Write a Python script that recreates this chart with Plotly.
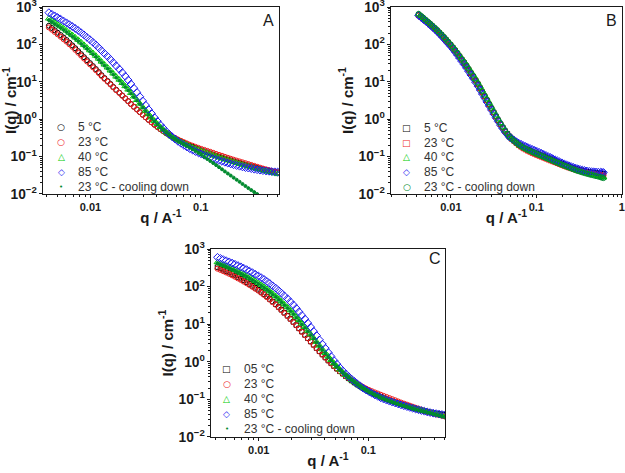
import plotly.graph_objects as go

# ---------------- data ----------------
q_AC = [0.00420, 0.00447, 0.00474, 0.00504, 0.00537, 0.00571, 0.00607, 0.00645, 0.00686, 0.00729,
        0.00775, 0.00824, 0.00875, 0.00930, 0.00991, 0.01054, 0.0112, 0.01191, 0.0126, 0.0134,
        0.0143, 0.0152, 0.0161, 0.01712, 0.0183, 0.01946, 0.0207, 0.02201, 0.0233, 0.02477,
        0.0264, 0.02807, 0.0298, 0.03168, 0.0337, 0.03583, 0.0381, 0.04051, 0.0431, 0.04582,
        0.0486, 0.05167, 0.0550, 0.05848, 0.0622, 0.06613, 0.0703, 0.07474, 0.0794, 0.08442,
        0.0897, 0.09537, 0.1014, 0.1078, 0.1148, 0.1221, 0.1297, 0.1379, 0.1466, 0.1559,
        0.1656, 0.1761, 0.1871, 0.1989, 0.2118, 0.2252, 0.2393, 0.2544, 0.2704, 0.2875,
        0.3055, 0.3248, 0.3451, 0.3669, 0.3908, 0.4155, 0.4416, 0.4695, 0.4989]
q_B = [0.00420, 0.00447, 0.00474, 0.00504, 0.00537, 0.00571, 0.00607, 0.00645, 0.00686, 0.00729,
       0.00775, 0.00824, 0.00875, 0.00930, 0.00991, 0.01054, 0.0112, 0.01191, 0.0126, 0.0134,
       0.0143, 0.0152, 0.0161, 0.01712, 0.0183, 0.01946, 0.0207, 0.02201, 0.0233, 0.02477,
       0.0264, 0.02807, 0.0298, 0.03168, 0.0337, 0.03583, 0.0381, 0.04051, 0.0431, 0.04582,
       0.0486, 0.05167, 0.0550, 0.05848, 0.0622, 0.06613, 0.0703, 0.07474, 0.0794, 0.08442,
       0.0897, 0.09537, 0.1014, 0.1078, 0.1148, 0.1221, 0.1297, 0.1379, 0.1466, 0.1559,
       0.1656, 0.1761, 0.1871, 0.1989, 0.2118, 0.2252, 0.2393, 0.2544, 0.2704, 0.2875,
       0.3055, 0.3248, 0.3451, 0.3669, 0.3908, 0.4155, 0.4416, 0.4695, 0.4989, 0.5305,
       0.564, 0.5866, 0.610]

labels_AB = ["5 °C", "23 °C", "40 °C", "85 °C", "23 °C - cooling down"]
labels_C = ["05 °C", "23 °C", "40 °C", "85 °C", "23 °C - cooling down"]
panel_tags = ["A", "B", "C"]

# Panel A
A_5C = [316, 275, 239, 206, 178, 153, 131, 111, 94, 78.8, 66, 54.9, 45.6, 38.0, 31.6, 26.3, 21.9, 18.2,
        15.1, 12.6, 10.5, 8.76, 7.31, 6.12, 5.13, 4.30, 3.61, 3.04, 2.56, 2.16, 1.83, 1.55, 1.32, 1.12,
        0.957, 0.824, 0.710, 0.618, 0.538, 0.477, 0.422, 0.378, 0.338, 0.307, 0.278, 0.255, 0.233,
        0.214, 0.197, 0.183, 0.169, 0.158, 0.147, 0.138, 0.129, 0.121, 0.113, 0.106, 0.100, 0.0941,
        0.0885, 0.0836, 0.0789, 0.0746, 0.0706, 0.0671, 0.0637, 0.0606, 0.0577, 0.0549, 0.0522,
        0.0497, 0.0473, 0.0454, 0.0435, 0.0419, 0.0404, 0.0391, 0.0379]
A_23C = [285, 248, 216, 187, 161, 138, 119, 101, 86, 71.8, 60, 50.1, 41.8, 34.9, 29.2, 24.5, 20.5, 17.1,
         14.3, 12.0, 10.1, 8.47, 7.1, 5.96, 5.0, 4.21, 3.55, 2.99, 2.52, 2.14, 1.81, 1.54, 1.31, 1.12,
         0.955, 0.825, 0.712, 0.621, 0.542, 0.482, 0.428, 0.384, 0.345, 0.315, 0.287, 0.264, 0.243,
         0.225, 0.208, 0.195, 0.182, 0.171, 0.160, 0.151, 0.142, 0.134, 0.126, 0.118, 0.111, 0.105,
         0.0985, 0.0928, 0.0875, 0.0826, 0.0780, 0.0739, 0.0700, 0.0664, 0.0630, 0.0597, 0.0565,
         0.0534, 0.0505, 0.0479, 0.0455, 0.0432, 0.0410, 0.0392, 0.0375]
A_40C = [493, 439, 390, 345, 305, 268, 235, 205, 178, 154, 133, 114, 97.1, 82.3, 69.8, 59.0, 49.8, 41.6,
         34.7, 29.0, 24.2, 20.1, 16.7, 13.8, 11.4, 9.33, 7.64, 6.21, 5.04, 4.05, 3.26, 2.62, 2.10, 1.69,
         1.36, 1.11, 0.903, 0.749, 0.622, 0.529, 0.449, 0.390, 0.339, 0.304, 0.272, 0.248, 0.226,
         0.207, 0.190, 0.175, 0.162, 0.151, 0.140, 0.131, 0.122, 0.114, 0.107, 0.101, 0.0944, 0.0889,
         0.0838, 0.0791, 0.0746, 0.0706, 0.0668, 0.0635, 0.0603, 0.0572, 0.0543, 0.0516, 0.0490,
         0.0468, 0.0447, 0.0427, 0.0407, 0.0389, 0.0372, 0.0355, 0.0339]
A_85C = [708, 642, 582, 525, 473, 423, 379, 338, 301, 267, 236, 206, 180, 155, 134, 114, 97.5, 81.7,
         68.4, 57.3, 48.0, 39.7, 32.8, 26.8, 21.9, 17.6, 14.1, 11.1, 8.73, 6.75, 5.22, 4.01, 3.08, 2.37,
         1.82, 1.42, 1.10, 0.878, 0.700, 0.575, 0.473, 0.401, 0.340, 0.295, 0.256, 0.227, 0.201,
         0.181, 0.163, 0.149, 0.136, 0.126, 0.116, 0.108, 0.101, 0.0946, 0.0885, 0.0835, 0.0787,
         0.0745, 0.0705, 0.0669, 0.0635, 0.0604, 0.0575, 0.0551, 0.0528, 0.0509, 0.0491, 0.0475,
         0.0459, 0.0445, 0.0432, 0.0421, 0.0411, 0.0403, 0.0396, 0.0391, 0.0386]
A_cool = [450, 400, 355, 315, 280, 246, 216, 188, 164, 142, 123, 105, 90, 76.5, 65, 55.0, 46.5, 38.9,
          32.5, 27.2, 22.7, 18.9, 15.7, 13.0, 10.8, 8.88, 7.3, 5.95, 4.85, 3.91, 3.15, 2.54, 2.05, 1.65,
          1.33, 1.08, 0.88, 0.733, 0.61, 0.518, 0.44, 0.381, 0.33, 0.296, 0.265, 0.239, 0.215, 0.194,
          0.175, 0.157, 0.140, 0.125, 0.112, 0.098, 0.086, 0.0759, 0.067, 0.059, 0.052, 0.0456, 0.040,
          0.0352, 0.031, 0.0273, 0.024, 0.0211, 0.0185, 0.0163, 0.0143, 0.0127, 0.0112, 0.0099,
          0.0088, 0.0078, 0.0070]

# Panel B
B_5C = [617, 551, 492, 438, 390, 345, 305, 268, 236, 205, 178, 153, 132, 113, 96.2, 81.0, 68.2, 56.7,
        47.2, 38.8, 31.9, 25.9, 21.0, 16.8, 13.5, 10.7, 8.49, 6.64, 5.20, 4.05, 3.15, 2.45, 1.91, 1.50,
        1.17, 0.926, 0.733, 0.592, 0.478, 0.407, 0.347, 0.304, 0.267, 0.237, 0.211, 0.194, 0.178,
        0.166, 0.155, 0.146, 0.137, 0.129, 0.122, 0.115, 0.109, 0.103, 0.0968, 0.0913, 0.0861,
        0.0813, 0.0767, 0.0723, 0.0682, 0.0644, 0.0608, 0.0576, 0.0545, 0.0518, 0.0493, 0.0473,
        0.0453, 0.0437, 0.0421, 0.0408, 0.0395, 0.0386, 0.0377, 0.0370, 0.0363, 0.0359, 0.0354,
        0.0351, 0.0347]
B_23C = [600, 537, 480, 428, 382, 339, 300, 264, 232, 202, 176, 152, 131, 112, 95.5, 80.6, 68.0, 56.8,
         47.5, 39.2, 32.3, 26.3, 21.4, 17.2, 13.8, 11.0, 8.7, 6.79, 5.3, 4.12, 3.2, 2.49, 1.93, 1.50,
         1.17, 0.924, 0.73, 0.589, 0.475, 0.396, 0.33, 0.292, 0.258, 0.227, 0.200, 0.182, 0.165,
         0.153, 0.142, 0.133, 0.124, 0.117, 0.110, 0.104, 0.098, 0.0926, 0.0875, 0.0826, 0.078,
         0.0739, 0.070, 0.0661, 0.0625, 0.0592, 0.0560, 0.0532, 0.0505, 0.0482, 0.0460, 0.0442,
         0.0425, 0.0410, 0.0395, 0.0382, 0.0370, 0.0360, 0.0350, 0.0342, 0.0335, 0.0327, 0.0320,
         0.0312, 0.0305]
B_40C = [640, 571, 510, 455, 405, 359, 318, 280, 247, 215, 187, 162, 140, 120, 102, 86.3, 73, 61.0,
         51, 42.1, 34.8, 28.4, 23.2, 18.7, 15.0, 11.9, 9.4, 7.38, 5.8, 4.51, 3.5, 2.71, 2.10, 1.63,
         1.27, 1.00, 0.79, 0.632, 0.505, 0.417, 0.345, 0.306, 0.272, 0.241, 0.214, 0.196, 0.179,
         0.167, 0.155, 0.145, 0.136, 0.128, 0.120, 0.113, 0.106, 0.0998, 0.094, 0.0883, 0.083,
         0.0784, 0.074, 0.0699, 0.066, 0.0621, 0.0585, 0.0552, 0.052, 0.0492, 0.0465, 0.0442,
         0.0420, 0.0402, 0.0385, 0.0370, 0.0355, 0.0342, 0.0330, 0.0320, 0.0310, 0.0300, 0.0290,
         0.0282, 0.0275]
B_85C = [600, 536, 478, 425, 378, 334, 295, 259, 227, 196, 170, 146, 125, 106, 90.5, 75.8, 63.5, 52.6,
         43.5, 35.6, 29.2, 23.6, 19.1, 15.3, 12.2, 9.69, 7.7, 6.05, 4.75, 3.71, 2.9, 2.27, 1.77, 1.39,
         1.09, 0.867, 0.69, 0.562, 0.458, 0.389, 0.330, 0.300, 0.272, 0.249, 0.228, 0.213, 0.198,
         0.186, 0.175, 0.165, 0.155, 0.146, 0.138, 0.130, 0.122, 0.114, 0.107, 0.100, 0.094, 0.0878,
         0.082, 0.0768, 0.072, 0.0679, 0.064, 0.0604, 0.057, 0.0542, 0.0515, 0.0492, 0.047, 0.0452,
         0.0435, 0.0422, 0.0410, 0.0402, 0.0395, 0.0390, 0.0385, 0.0383, 0.0380, 0.0378, 0.0375]
B_cool = [660, 589, 525, 465, 412, 364, 322, 283, 249, 216, 188, 162, 139, 119, 101, 85.3, 72, 60.0,
          50, 41.2, 34, 27.7, 22.6, 18.1, 14.5, 11.5, 9.1, 7.11, 5.55, 4.31, 3.35, 2.60, 2.02, 1.57,
          1.22, 0.963, 0.76, 0.610, 0.49, 0.407, 0.338, 0.298, 0.263, 0.232, 0.205, 0.188, 0.172,
          0.160, 0.149, 0.140, 0.131, 0.123, 0.116, 0.109, 0.103, 0.0968, 0.091, 0.0859, 0.081,
          0.0764, 0.072, 0.0679, 0.064, 0.0604, 0.057, 0.0539, 0.051, 0.0482, 0.0455, 0.0432, 0.0410,
          0.0392, 0.0375, 0.0360, 0.0345, 0.0332, 0.0320, 0.0310, 0.0300, 0.0290, 0.0280, 0.0272,
          0.0265]

# Panel C
C_05C = [331, 306, 282, 259, 238, 217, 198, 180, 163, 147, 132, 118, 105, 93.1, 82.6, 72.2, 63.1, 54.5,
         47.0, 40.1, 34.2, 28.8, 24.3, 20.2, 16.8, 13.9, 11.5, 9.45, 7.76, 6.34, 5.18, 4.23, 3.46, 2.83,
         2.31, 1.90, 1.56, 1.30, 1.08, 0.910, 0.766, 0.653, 0.557, 0.481, 0.415, 0.363, 0.317, 0.280,
         0.248, 0.222, 0.199, 0.181, 0.164, 0.150, 0.138, 0.127, 0.117, 0.109, 0.101, 0.0945, 0.0885,
         0.0832, 0.0783, 0.0739, 0.0697, 0.0660, 0.0624, 0.0592, 0.0562, 0.0535, 0.0509, 0.0488,
         0.0468, 0.0451, 0.0435, 0.0421, 0.0408, 0.0398, 0.0389]
C_23C = [300, 278, 258, 238, 219, 200, 183, 166, 151, 136, 123, 110, 98.5, 87.7, 78, 68.4, 60, 52.0,
         45, 38.5, 33, 27.9, 23.6, 19.7, 16.4, 13.6, 11.3, 9.30, 7.65, 6.26, 5.12, 4.19, 3.43, 2.80,
         2.29, 1.88, 1.55, 1.29, 1.07, 0.902, 0.76, 0.650, 0.555, 0.482, 0.418, 0.368, 0.324, 0.289,
         0.258, 0.234, 0.212, 0.194, 0.178, 0.165, 0.153, 0.143, 0.133, 0.124, 0.116, 0.108, 0.101,
         0.0943, 0.088, 0.0823, 0.077, 0.0724, 0.068, 0.0639, 0.060, 0.0564, 0.053, 0.0499, 0.047,
         0.0444, 0.042, 0.0400, 0.038, 0.0365, 0.035]
C_40C = [447, 415, 385, 356, 330, 303, 279, 256, 234, 213, 194, 175, 158, 141, 126, 112, 98.8, 86.4,
         75.5, 65.0, 55.9, 47.5, 40.4, 33.8, 28.3, 23.4, 19.4, 15.8, 12.9, 10.4, 8.41, 6.73, 5.38, 4.28,
         3.40, 2.70, 2.15, 1.72, 1.38, 1.12, 0.910, 0.752, 0.622, 0.526, 0.444, 0.383, 0.331, 0.289,
         0.253, 0.224, 0.199, 0.180, 0.162, 0.148, 0.135, 0.125, 0.115, 0.107, 0.0989, 0.0928, 0.0871,
         0.0822, 0.0776, 0.0733, 0.0692, 0.0657, 0.0624, 0.0592, 0.0562, 0.0537, 0.0513, 0.0490,
         0.0468, 0.0447, 0.0427, 0.0408, 0.0389, 0.0372, 0.0355]
C_85C = [603, 563, 526, 490, 457, 424, 394, 364, 337, 309, 284, 259, 236, 213, 193, 173, 155, 137,
         121, 105, 91.4, 78.4, 67.3, 56.7, 47.8, 39.5, 32.7, 26.5, 21.5, 17.2, 13.7, 10.7, 8.38, 6.47,
         5.00, 3.84, 2.95, 2.29, 1.77, 1.38, 1.08, 0.866, 0.695, 0.575, 0.475, 0.405, 0.346, 0.299,
         0.258, 0.227, 0.199, 0.178, 0.160, 0.145, 0.131, 0.120, 0.110, 0.102, 0.0953, 0.0896, 0.0843,
         0.0798, 0.0755, 0.0714, 0.0676, 0.0642, 0.0610, 0.0580, 0.0552, 0.0528, 0.0504, 0.0483,
         0.0462, 0.0446, 0.0430, 0.0417, 0.0404, 0.0394, 0.0385]
C_cool = [425, 394, 366, 339, 313, 288, 265, 243, 222, 202, 184, 166, 150, 134, 120, 106, 94, 82.3,
          72, 62.1, 53.5, 45.4, 38.6, 32.3, 27.1, 22.5, 18.6, 15.2, 12.4, 10.0, 8.1, 6.49, 5.2, 4.14,
          3.3, 2.63, 2.1, 1.68, 1.35, 1.10, 0.89, 0.737, 0.61, 0.517, 0.438, 0.379, 0.327, 0.286,
          0.250, 0.222, 0.197, 0.178, 0.160, 0.146, 0.133, 0.123, 0.113, 0.105, 0.097, 0.0908, 0.085,
          0.0798, 0.075, 0.0709, 0.067, 0.0634, 0.060, 0.0569, 0.054, 0.0514, 0.049, 0.0470, 0.045,
          0.0430, 0.041, 0.0390, 0.037, 0.0355, 0.034]

# ---------------- styling ----------------
F = "Liberation Sans, Arial, sans-serif"
AX = "#1a1a1a"
BLACK, RED, GREEN, BLUE, DKGREEN = "#000000", "#ee1c1c", "#00cc00", "#1c1cf0", "#008a2e"
colors = [BLACK, RED, GREEN, BLUE, DKGREEN]

W, H = 625, 473


def px_x(p):
    return p / W


def px_y(p):
    return 1 - p / H


fig = go.Figure()

panels = [
    dict(q=q_AC, series=[A_5C, A_23C, A_40C, A_85C, A_cool], labels=labels_AB,
         sym=["circle-open", "circle-open", "triangle-up-open", "diamond-open", "circle"],
         size=[5, 5, 6, 6, 3], glyph=["○", "○", "△", "◇", "•"], xa="x", ya="y",
         leg_sym_x=61, leg_txt_x=76, leg_y0=126.7, leg_dy=15.1),
    dict(q=q_B, series=[B_5C, B_23C, B_40C, B_85C, B_cool], labels=labels_AB,
         sym=["square-open", "square-open", "triangle-up-open", "diamond-open", "circle-open"],
         size=[4.5, 4.5, 6, 6, 5], glyph=["□", "□", "△", "◇", "○"], xa="x2", ya="y2",
         leg_sym_x=406.7, leg_txt_x=422, leg_y0=127.7, leg_dy=14.8),
    dict(q=q_AC, series=[C_05C, C_23C, C_40C, C_85C, C_cool], labels=labels_C,
         sym=["square-open", "circle-open", "triangle-up-open", "diamond-open", "circle"],
         size=[4.5, 5, 6, 6, 3], glyph=["□", "○", "△", "◇", "•"], xa="x3", ya="y3",
         leg_sym_x=226.7, leg_txt_x=242, leg_y0=369.3, leg_dy=15.0),
]

for p in panels:
    for vals, lab, sym, sz, col in zip(p["series"], p["labels"], p["sym"], p["size"], colors):
        n = min(len(vals), len(p["q"]))
        fig.add_trace(go.Scatter(
            x=p["q"][:n], y=vals[:n], mode="markers", name=lab, showlegend=False,
            marker=dict(symbol=sym, size=sz, color=col, line=dict(color=col, width=1)),
            xaxis=p["xa"], yaxis=p["ya"]))
    # legend rows as text (symbol glyph + label)
    for i, (lab, g, col) in enumerate(zip(p["labels"], p["glyph"], colors)):
        yy = p["leg_y0"] + i * p["leg_dy"]
        fig.add_annotation(text=g, xref="paper", yref="paper", x=px_x(p["leg_sym_x"]), y=px_y(yy),
                           showarrow=False, xanchor="center", yanchor="middle",
                           font=dict(family="DejaVu Sans", size=9 if g != "•" else 7, color=col))
        fig.add_annotation(text=lab, xref="paper", yref="paper", x=px_x(p["leg_txt_x"]), y=px_y(yy),
                           showarrow=False, xanchor="left", yanchor="middle",
                           font=dict(family=F, size=12, color="#333333"))

tickfont = dict(family=F, size=11, color=AX, weight="bold")
titlefont = dict(family=F, size=15, color=AX)


def xcfg(rng, dom, anchor):
    return dict(type="log", range=rng, domain=dom, anchor=anchor, dtick=1, automargin=False,
                showgrid=False, zeroline=False, showline=True, linecolor=AX, linewidth=1,
                mirror=True, ticks="outside", ticklen=3, tickcolor=AX, tickwidth=1,
                minor=dict(ticks="outside", ticklen=2, tickcolor=AX, showgrid=False),
                tickfont=tickfont, ticklabelstandoff=0, ticklabeloverflow="allow",
                title=dict(text="<b>q / A<sup>-1</sup></b>", font=titlefont, standoff=0))


def ycfg(dom, anchor):
    return dict(type="log", range=[-2.002, 3.002], domain=dom, anchor=anchor, dtick=1, automargin=False,
                exponentformat="power", labelalias={"1": "10<sup>0</sup>", "10": "10<sup>1</sup>"},
                showgrid=False, zeroline=False, showline=True, linecolor=AX, linewidth=1,
                mirror=True, ticks="outside", ticklen=3, tickcolor=AX, tickwidth=1,
                minor=dict(ticks="outside", ticklen=2, tickcolor=AX, showgrid=False),
                tickfont=tickfont, ticklabeloverflow="allow",
                title=dict(text="<b>I(q) / cm<sup>-1</sup></b>", font=titlefont, standoff=1))


def xtop(rng, over, anchor):
    return dict(type="log", range=rng, overlaying=over, anchor=anchor, side="top", dtick=1,
                automargin=False, showgrid=False, zeroline=False, showline=False,
                showticklabels=False, ticks="inside", ticklen=3, tickcolor=AX,
                minor=dict(ticks="inside", ticklen=2, tickcolor=AX, showgrid=False))


def yright(over, anchor):
    return dict(type="log", range=[-2.002, 3.002], overlaying=over, anchor=anchor, side="right",
                dtick=1, automargin=False, showgrid=False, zeroline=False, showline=False,
                showticklabels=False, ticks="inside", ticklen=3, tickcolor=AX,
                minor=dict(ticks="inside", ticklen=2, tickcolor=AX, showgrid=False))


rA, rB, rC = [-2.43, -0.29], [-2.70, 0.002], [-2.436, -0.30]
domA_x = [px_x(43), px_x(279)]
domB_x = [px_x(391), px_x(622)]
domC_x = [px_x(211), px_x(445)]
domAB_y = [px_y(194), px_y(7)]
domC_y = [px_y(437), px_y(249)]

fig.update_layout(
    width=W, height=H, margin=dict(l=0, r=0, t=0, b=0, autoexpand=False),
    paper_bgcolor="white", plot_bgcolor="white", showlegend=False,
    xaxis=xcfg(rA, domA_x, "y"), yaxis=ycfg(domAB_y, "x"),
    xaxis2=xcfg(rB, domB_x, "y2"), yaxis2=ycfg(domAB_y, "x2"),
    xaxis3=xcfg(rC, domC_x, "y3"), yaxis3=ycfg(domC_y, "x3"),
    xaxis4=xtop(rA, "x", "y"), yaxis4=yright("y", "x"),
    xaxis5=xtop(rB, "x2", "y2"), yaxis5=yright("y2", "x2"),
    xaxis6=xtop(rC, "x3", "y3"), yaxis6=yright("y3", "x3"),
)

for txt, x, y in zip(panel_tags, [268, 611, 435], [20, 20, 258]):
    fig.add_annotation(text=txt, xref="paper", yref="paper", x=px_x(x), y=px_y(y),
                       showarrow=False, font=dict(family=F, size=16, color=AX),
                       xanchor="center", yanchor="middle")

# remove the browser's default page margin so the 625x473 figure fills the window
fig.write_html("out.html", config={"displayModeBar": False},
               post_script="document.body.style.margin='0';document.body.style.overflow='hidden';")
